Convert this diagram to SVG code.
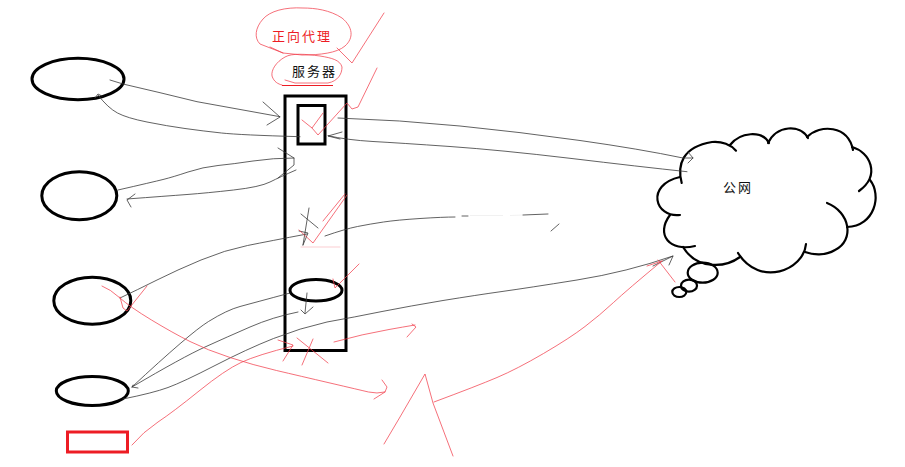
<svg xmlns="http://www.w3.org/2000/svg" width="905" height="467" viewBox="0 0 905 467">
<style>
.bg{fill:#fff}
.n{fill:none;stroke:#000;stroke-width:3}
.c{fill:none;stroke:#000;stroke-width:2.2;stroke-linecap:round}
.k{fill:none;stroke:#3a3a3a;stroke-width:.8;stroke-linejoin:round;stroke-linecap:round}
.r{fill:none;stroke:#f2404e;stroke-width:.75;stroke-linejoin:round;stroke-linecap:round}
.t{font-family:"Noto Sans CJK SC","Liberation Serif",serif;font-size:13px;letter-spacing:2px}
</style>
<rect class="bg" width="905" height="467"/>
<g id="client1"><ellipse class="n" cx="78" cy="79" rx="46" ry="20.7"/></g>
<g id="client2"><ellipse class="n" cx="79.3" cy="195.7" rx="37.5" ry="24"/></g>
<g id="client3"><ellipse class="n" cx="92.3" cy="300.7" rx="38.5" ry="23.5"/></g>
<g id="client4"><ellipse class="n" cx="92.3" cy="391" rx="36" ry="14.500"/></g>
<g id="client5"><rect x="67.500" y="432" width="60" height="20" fill="none" stroke="#ed1c24" stroke-width="3"/></g>
<g id="server"><rect class="n" x="285" y="96" width="61" height="254.500"/></g>
<g id="proxy"><rect class="n" x="298" y="105.500" width="27" height="38.500"/></g>
<g id="inner-node"><ellipse class="n" cx="316" cy="290.300" rx="26" ry="10.800"/></g>
<g id="label-proxy"><path class="r" d="M270,47 L283,53 L302,55 C320,55 337,53 345,46 C354,38 353,27 342,18 C330,10 315,8 303,8 C285,7 270,11 263,19 C255,28 254,38 260,44 L283,53"/><text class="t" x="272" y="41" fill="#ed1c24">正向代理</text></g>
<g id="label-server"><path class="r" d="M285,80 L295,83 L328,83 C338,81 342,74 342,67 C340,60 332,58 320,56 C305,54 292,53 285,57 C276,62 271,70 272,76 C274,82 278,84 282,85"/><path d="M282,85.500 H333" stroke="#ed1c24" stroke-width="1.200" fill="none"/><text class="t" x="292" y="76" fill="#111">服务器</text></g>
<g id="internet">
<path class="c" d="M681.700,183 C677,165 682,147 712,142 C722,141 731,145 736,150.700"/>
<path class="c" d="M730,145 C740,132 762,130 769,143"/>
<path class="c" d="M768,143 C777,125 800,124 808,138"/>
<path class="c" d="M807,137 C820,124 848,125 853,150"/>
<path class="c" d="M852,147 C870,152 881,175 859,191"/>
<path class="c" d="M870,180 C882,195 875,226 847,227"/>
<path class="c" d="M827,203 C850,212 855,240 835,250 C825,256 813,255 805,252"/>
<path class="c" d="M806,244 C804,270 760,288 738,253"/>
<path class="c" d="M740,257 C725,268 697,270 683,247"/>
<path class="c" d="M695,246 C670,252 655,235 670,215"/>
<path class="c" d="M680,215 C655,218 645,185 680,177"/>
<ellipse class="c" cx="702.700" cy="272.700" rx="15" ry="10"/>
<ellipse class="c" cx="689" cy="285.700" rx="8" ry="6"/>
<ellipse class="c" cx="679.300" cy="292" rx="7" ry="5"/>
<text class="t" x="723" y="192" fill="#111">公网</text>
</g>
<g id="connectors">
<polyline class="k" points="110,80 123,84 160,92.700 197,101.700 280,116.700"/>
<polyline class="k" points="263,102 280,117 267,125"/>
<path class="k" d="M300,136.700 Q240,135 221.500,133 Q203,131 185,128.500 Q167,126 147,122 Q127,118 117.500,113 Q108,108 98,95"/>
<polyline class="k" points="95,98 98,94 102,96"/>
<path class="k" d="M118,190 Q153,182 163,179.500 Q173,177 188,172 Q203,167 218,165.500 Q233,164 253,161 Q273,158 294,158"/>
<polyline class="k" points="278,148 294,158 294,165 278,178"/>
<path class="k" d="M296,170 Q280,177 270,182 Q260,187 233.500,190 Q207,193 187,194.500 Q167,196 127,199"/>
<polyline class="k" points="135,194 127,200 131,207"/>
<path class="k" d="M338,118 Q400,120 460,126 Q520,132 580,140.500 Q640,149 683,158 L693,158"/>
<polyline class="k" points="688,152 693,158 688,163"/>
<path class="k" d="M687,171.700 Q640,166.700 570,158.300 Q500,150 450,146.500 Q400,143 373,141.500 Q347,140 328,135.700"/>
<polyline class="k" points="342,132 328,136 340,139"/>
<path class="k" d="M120,298 Q137,290 157,280 Q177,270 201,260 Q225,250 247.500,245.500 Q270,241 307,234"/>
<polyline class="k" points="299,231 308,233 303,245"/>
<polyline class="k" points="309,208 303,245"/>
<polyline class="k" points="301,214 318,228"/>
<path class="k" d="M325,236 Q345,229 357.500,226.500 Q370,224 383.500,222 Q397,220 420,218.500 Q443,217 455,217"/>
<polyline class="k" points="462,216 468,216"/>
<polyline points="470,215.500 503,215.500" fill="none" stroke="#eee" stroke-width=".8"/>
<polyline points="510,215.500 523,215" fill="none" stroke="#eee" stroke-width=".8"/>
<polyline class="k" points="523,215 548,214"/>
<polyline class="k" points="551,231 559,224"/>
<path class="k" d="M290,293 Q253,303 240,306.500 Q227,310 208.500,321.500 Q190,333 132,387"/>
<path class="k" d="M298,312 Q273,317 250,327 Q227,337 205,347 Q183,357 132,387"/>
<polyline class="k" points="133,385 132,387 138,388"/>
<polyline class="k" points="307,293 305,313"/>
<polyline class="k" points="301,310 305,314 313,307"/>
<path class="k" d="M123,399 Q153,393 168,387.500 Q183,382 215,365.500 Q247,349 273.500,338.500 Q300,328 327,322 Q355,317 382,311.500 Q410,306 443,300.500 Q477,295 502,291.500 Q527,288 577,280 Q627,272 673,256"/>
<polyline class="k" points="653,266 673,256 669,265"/>
<polyline class="r" points="337,48 352,63 384,13"/>
<polyline class="r" points="302,120 312,128 323,113"/>
<polyline class="r" points="312,128 318,135 347,103 352,109 358,107 377,68"/>
<polyline class="r" points="299,230 313,243 347,195"/>
<polyline class="r" points="323,221 345,194"/>
<polyline class="r" points="301,247 340,247" opacity=".35"/>
<polyline class="r" points="333,279 335,288 359,264"/>
<polyline class="r" points="297,338 328,363"/>
<polyline class="r" points="313,339 302,365"/>
<path class="r" d="M132,445 Q143,432 158,422 Q173,412 199,391 Q225,370 241,362.500 Q257,355 293,346"/>
<polyline class="r" points="278,340 293,345 283,361"/>
<path class="r" d="M334,342 Q363,334 389,329.500 Q403,327 415,325"/>
<polyline class="r" points="412,324 416,327 407,337"/>
<path class="r" d="M102,286 Q110,289 120,298 Q130,307 151.500,320 Q173,333 190,341.500 Q207,350 230,357.500 Q253,365 276.500,370.500 Q300,376 330,383 Q360,390 368.500,392 Q377,394 385,392"/>
<polyline class="r" points="382,380 387,387 385,392 374,399"/>
<polyline class="r" points="120,297 123,308 127,311 147,286"/>
<polyline class="r" points="384,444 400,417 425,374 433,403 453,456"/>
<path class="r" d="M434,402 Q477,386 497,377.500 Q517,369 543.500,353.500 Q570,338 585,326.500 Q600,315 613.500,302.500 Q627,290 662,261"/>
<polyline class="r" points="647,266 662,261"/>
<polyline class="r" points="658,260 675,282"/>
</g>
</svg>
